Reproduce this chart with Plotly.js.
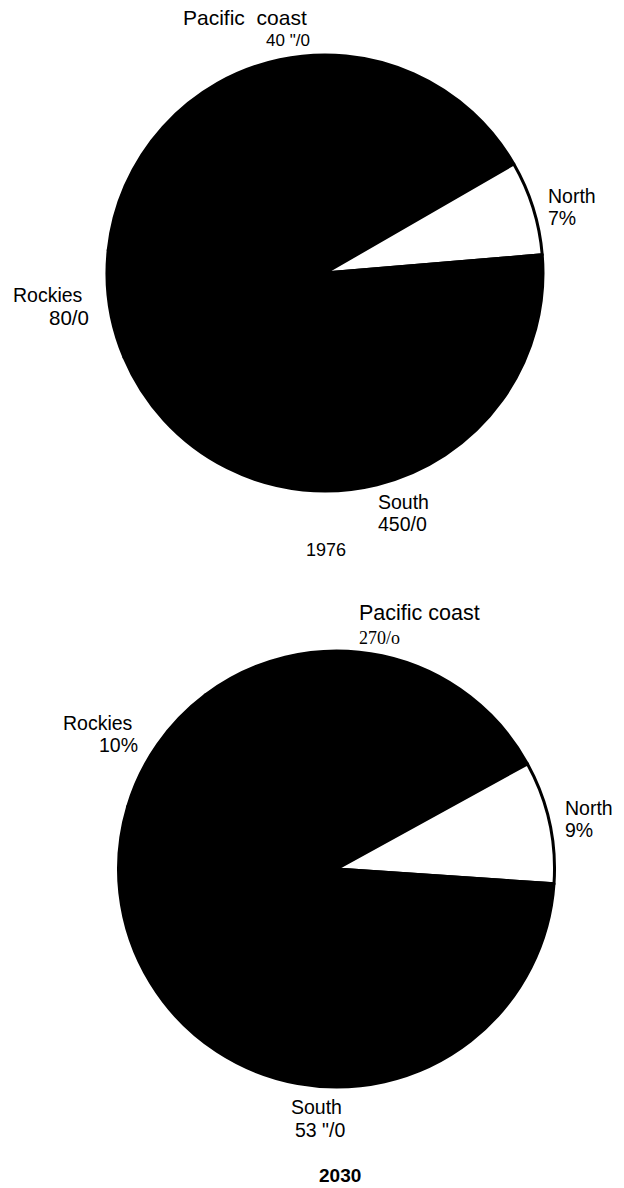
<!DOCTYPE html>
<html>
<head>
<meta charset="utf-8">
<script src="https://cdn.plot.ly/plotly-3.0.1.min.js"></script>
<style>
  html, body { margin: 0; padding: 0; background: #fff; }
  #chart { width: 624px; height: 1188px; }
</style>
</head>
<body>
<div id="chart"></div>
<script>
// ---- data ----
const regions = ['Pacific coast', 'North', 'South', 'Rockies'];
const shares1976 = [40, 7, 45, 8];
const shares2030 = [27, 9, 53, 10];
// percentage labels exactly as printed in the scanned figure
const pctLabels1976 = ['40 "/0', '7%', '450/0', '80/0'];
const pctLabels2030 = ['270/o', '9%', '53 "/0', '10%'];
const yearLabels = ['1976', '2030'];
const sliceColors = ['#000000', '#ffffff', '#000000', '#000000'];

const W = 624, H = 1188;
const px = x => x / W;
const py = y => 1 - y / H;

function pieTrace(values, x0, x1, y0, y1, rot) {
  return {
    type: 'pie',
    labels: regions,
    values: values,
    sort: false,
    direction: 'clockwise',
    rotation: rot,
    textinfo: 'none',
    hoverinfo: 'label+percent',
    marker: { colors: sliceColors, line: { color: '#000', width: 3 } },
    domain: { x: [px(x0), px(x1)], y: [py(y1), py(y0)] },
    showlegend: false
  };
}

const data = [
  pieTrace(shares1976, 107, 543, 55, 491, -84),
  pieTrace(shares2030, 118, 555, 651, 1087, -37)
];

const SANS = 'Liberation Sans, Arial, sans-serif';
const NARROW = 'Liberation Sans Narrow, Arial Narrow, sans-serif';
const SERIF = 'Liberation Serif, Times New Roman, serif';

function ann(text, x, y, xanchor, size, family, bold) {
  return {
    text: bold ? '<b>' + text + '</b>' : text,
    x: px(x), y: py(y), xref: 'paper', yref: 'paper',
    xanchor: xanchor, yanchor: 'middle',
    showarrow: false,
    borderpad: 0,
    font: { family: family || SANS, size: size, color: '#000' }
  };
}

const F = 19.5;
const annotations = [
  // 1976
  ann('Pacific\u00a0 coast', 182, 18, 'left', 21),
  ann(pctLabels1976[0], 311, 41, 'right', 17),
  ann(regions[1], 547, 196, 'left', F),
  ann(pctLabels1976[1], 547, 218, 'left', F),
  ann(regions[3], 12, 295, 'left', F),
  ann(pctLabels1976[3], 90, 317, 'right', F + 1, NARROW),
  ann(regions[2], 377, 502, 'left', F),
  ann(pctLabels1976[2], 377, 524, 'left', F, NARROW),
  ann(yearLabels[0], 326, 550, 'center', 18),
  // 2030
  ann('Pacific coast', 358, 613, 'left', 21.5),
  ann(pctLabels2030[0], 358, 638, 'left', 18, SERIF),
  ann(regions[3], 62, 723, 'left', F),
  ann(pctLabels2030[3], 139, 745, 'right', F),
  ann(regions[1], 564, 808, 'left', F),
  ann(pctLabels2030[1], 564, 830, 'left', F),
  ann(regions[2], 290, 1107, 'left', F),
  ann(pctLabels2030[2], 346, 1130, 'right', F, NARROW),
  ann(yearLabels[1], 340, 1175, 'center', 19, SANS, true)
];

const layout = {
  width: W, height: H,
  margin: { l: 0, r: 0, t: 0, b: 0 },
  paper_bgcolor: '#fff',
  plot_bgcolor: '#fff',
  annotations: annotations,
  showlegend: false
};

Plotly.newPlot('chart', data, layout, { displayModeBar: false, staticPlot: true });
</script>
</body>
</html>
